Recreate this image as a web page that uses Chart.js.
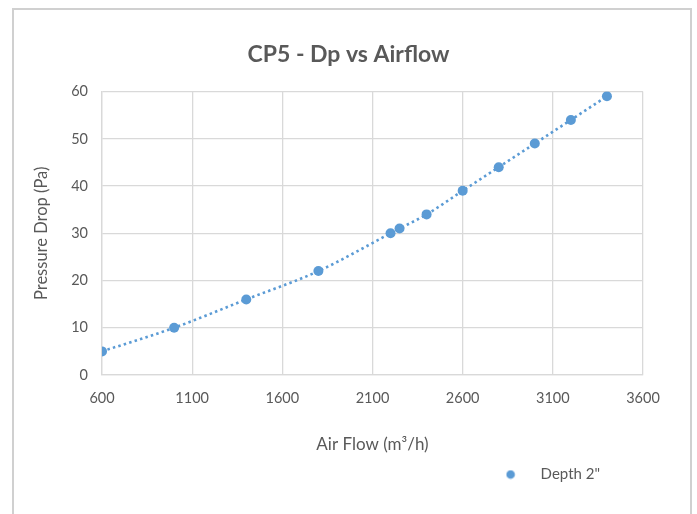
<!DOCTYPE html>
<html>
<head>
<meta charset="utf-8">
<script src="https://cdn.jsdelivr.net/npm/chart.js@4/dist/chart.umd.min.js"></script>
<style>
html,body{margin:0;padding:0;background:#fff;}
#wrap{width:697px;height:514px;position:relative;}
</style>
</head>
<body>
<div id="wrap"><canvas id="c" width="697" height="514"></canvas></div>
<script>
const chartTitle = 'CP5 - Dp vs Airflow';
const seriesName = 'Depth 2"';
const airFlow = [600, 1000, 1400, 1800, 2200, 2250, 2400, 2600, 2800, 3000, 3200, 3400];
const pressureDrop = [5, 10, 16, 22, 30, 31, 34, 39, 44, 49, 54, 59];
const xTitle = 'Air Flow (m³/h)';
const yTitle = 'Pressure Drop (Pa)';

const BLUE = '#5b9bd5';
const TXT = '#595959';
const GRID = '#d9d9d9';
const FONT = 'Lato, "Open Sans", sans-serif';

// legend marker image: dot offset to the left of the image centre
const mark = document.createElement('canvas');
mark.width = 42; mark.height = 10;
(function(){
  const g = mark.getContext('2d');
  g.fillStyle = BLUE;
  g.beginPath(); g.arc(5, 5, 4.3, 0, Math.PI * 2); g.fill();
})();

const frame = {
  id: 'frame',
  beforeDraw(chart) {
    const ctx = chart.ctx;
    ctx.save();
    ctx.fillStyle = '#fff';
    ctx.fillRect(0, 0, chart.width, chart.height);
    ctx.strokeStyle = '#d0d0d0';
    ctx.lineWidth = 2;
    ctx.strokeRect(13, 9, 678, 560);
    ctx.restore();
  },
  afterLayout(chart) {
    const lg = chart.legend;
    if (lg) {
      const w = lg.right - lg.left;
      lg.right = chart.chartArea.right - 33;
      lg.left = lg.right - w;
    }
  }
};

const data = airFlow.map((x, i) => ({x: x, y: pressureDrop[i]}));

new Chart(document.getElementById('c'), {
  type: 'scatter',
  data: {
    datasets: [{
      label: seriesName,
      data: data,
      yAxisID: 'y',
      showLine: true,
      cubicInterpolationMode: 'monotone',
      borderColor: BLUE,
      borderWidth: 2.6,
      borderDash: [2.5, 3.2],
      borderCapStyle: 'butt',
      pointRadius: 5,
      pointHoverRadius: 5,
      pointBackgroundColor: BLUE,
      pointBorderColor: BLUE,
      pointBorderWidth: 0
    }]
  },
  options: {
    responsive: false,
    animation: false,
    layout: {padding: {left: 30, right: 30, top: 0, bottom: 22}},
    plugins: {
      title: {
        display: true,
        text: chartTitle,
        color: TXT,
        font: {family: FONT, size: 23, weight: 'bold'},
        padding: {top: 41, bottom: 23}
      },
      legend: {
        display: true,
        position: 'bottom',
        align: 'end',
        labels: {
          usePointStyle: true,
          pointStyle: mark,
          color: TXT,
          font: {family: FONT, size: 15},
          boxWidth: 13,
          padding: 10
        }
      },
      tooltip: {enabled: false}
    },
    scales: {
      x: {
        type: 'linear',
        min: 600,
        max: 3600,
        ticks: {stepSize: 500, color: TXT, font: {family: FONT, size: 14.5}, padding: 15, autoSkip: false,
                callback: v => String(v)},
        grid: {color: GRID, lineWidth: 1.3, drawTicks: false},
        border: {color: GRID, width: 1.3},
        title: {display: true, text: xTitle, color: TXT, font: {family: FONT, size: 17}, padding: {top: 0, bottom: 2}},
        afterFit(s) { s.height = 82; }
      },
      y: {
        type: 'linear',
        position: 'left',
        min: 0,
        max: 60,
        ticks: {stepSize: 10, color: TXT, font: {family: FONT, size: 14.5}, padding: 14,
                callback: v => String(v)},
        grid: {color: GRID, lineWidth: 1.3, drawTicks: false},
        border: {color: GRID, width: 1.3},
        title: {display: true, text: yTitle, color: TXT, font: {family: FONT, size: 16.5}, padding: {top: 2, bottom: 0}},
        afterFit(s) { s.width = 72; }
      },
      y2: {
        type: 'linear',
        position: 'right',
        display: true,
        min: 0,
        max: 60,
        ticks: {display: false},
        grid: {display: false, drawTicks: false},
        border: {display: false},
        afterFit(s) { s.width = 24; }
      }
    }
  },
  plugins: [frame]
});
</script>
</body>
</html>
